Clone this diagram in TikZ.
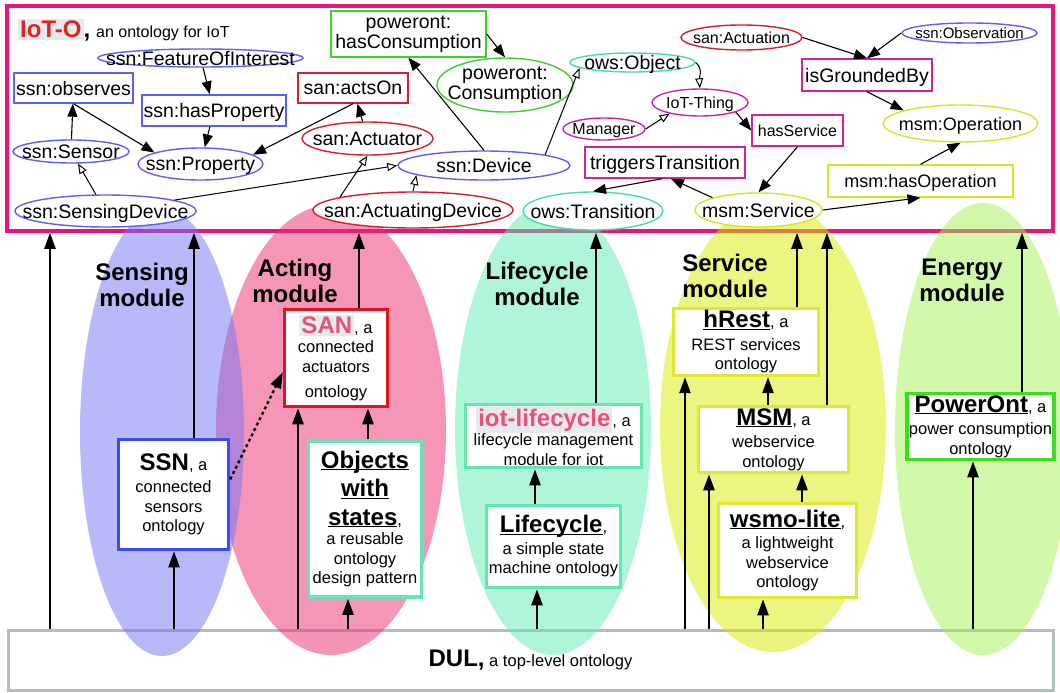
\documentclass[tikz,border=0pt]{standalone}
\usepackage{fontspec}
\setmainfont{Liberation Sans}
\usetikzlibrary{shapes,arrows.meta,positioning}

\definecolor{iotmag}{RGB}{228,22,122}
\definecolor{cblue}{RGB}{95,95,240}
\definecolor{cred}{RGB}{215,30,45}
\definecolor{cgreen}{RGB}{60,210,40}
\definecolor{cteal}{RGB}{70,220,170}
\definecolor{cmag}{RGB}{205,35,170}
\definecolor{cyel}{RGB}{215,228,40}
\definecolor{bblue}{RGB}{60,75,240}
\definecolor{bred}{RGB}{225,20,25}
\definecolor{bteal}{RGB}{100,230,175}
\definecolor{byel}{RGB}{220,232,50}
\definecolor{bgreen}{RGB}{60,220,30}
\definecolor{dulgray}{RGB}{175,190,190}
\definecolor{hlgray}{RGB}{230,234,234}
\definecolor{iotred}{RGB}{222,35,35}
\definecolor{sanpink}{RGB}{225,85,120}
\definecolor{lifepink}{RGB}{235,80,120}
\definecolor{senscol}{RGB}{115,115,245}
\definecolor{actcol}{RGB}{235,45,115}
\definecolor{lifecol}{RGB}{95,235,175}
\definecolor{servcol}{RGB}{215,235,0}
\definecolor{energycol}{RGB}{165,241,85}

\newcommand\ontofont{\fontsize{19.5}{21}\selectfont}
\newcommand\ontosmall{\fontsize{16}{18}\selectfont}
\newcommand\ontomid{\fontsize{18}{20}\selectfont}
\newcommand\modulefont{\fontsize{24}{26}\selectfont\bfseries}
\newcommand\boxtext{\fontsize{16.5}{19.5}\selectfont}
\newcommand\boxhead{\fontsize{24}{26}\selectfont\bfseries}
\newcommand\uhead[1]{\underline{\raisebox{0pt}[\height][0pt]{\boxhead #1}}}
\setlength\fboxsep{2pt}

\tikzset{
  prop/.style={rectangle, draw=#1, line width=1.4pt, fill=white, inner sep=0pt},
  cls/.style={ellipse, draw=#1, line width=1.4pt, fill=white, inner sep=0pt},
  txt/.style={font=\ontofont, align=center, inner sep=0pt, text depth=0pt},
  txttwo/.style={font=\fontsize{19.5}{20.5}\selectfont, align=center, inner sep=0pt},
  modbox/.style={rectangle, draw=#1, line width=3.5pt, fill=white, inner sep=2pt, align=center, font=\boxtext},
  modlbl/.style={font=\modulefont, align=center, inner sep=0pt},
  module/.style={fill=#1, fill opacity=.5},
  prp/.style={-{Triangle[length=13pt,width=10pt]}, line width=1.1pt},
  isa/.style={-{Triangle[open,length=10pt,width=8pt]}, line width=1pt},
  imports/.style={-{Triangle[length=16pt,width=11pt]}, line width=2.4pt},
}

\begin{document}
\begin{tikzpicture}[x=1pt,y=-1pt]
\useasboundingbox (0,0) rectangle (1060,693);

% frames
\node[draw=iotmag, line width=3.5pt, fill=white, inner sep=0pt, minimum width=1046pt, minimum height=225pt] (iot) at (530,118.5) {};
\node[draw=dulgray, line width=3pt, fill=white, inner sep=0pt, minimum width=1045pt, minimum height=60pt, font=\boxtext] (dul) at (530.5,660) {{\boxhead DUL,} a top-level ontology};

% modules
\fill[module=actcol] (331,430) ellipse [x radius=115pt, y radius=225pt];
\fill[module=senscol] (162,432) ellipse [x radius=82pt, y radius=224pt];
\fill[module=lifecol] (553,429) ellipse [x radius=98pt, y radius=226pt];
\fill[module=servcol] (773,427) ellipse [x radius=113pt, y radius=225pt];
\fill[module=energycol] (983,429) ellipse [x radius=88pt, y radius=226pt];

\node[anchor=base west, inner sep=0pt] (title) at (18,38) {\colorbox{hlgray}{\boxhead\color{iotred}IoT-O}{\boxhead,}\hspace{6pt}{\ontosmall an ontology for IoT}};

% IoT-O classes and properties
\node[prop=cblue, minimum width=119pt, minimum height=30pt, label={[txt]center:{ssn:observes}}] (observes) at (73.5,88) {};
\node[prop=cblue, minimum width=144pt, minimum height=31pt, label={[txt]center:{ssn:hasProperty}}] (hasProperty) at (214,110.5) {};
\node[prop=cred, minimum width=110pt, minimum height=30pt, label={[txt]center:{san:actsOn}}] (actsOn) at (353,88) {};
\node[prop=cgreen, minimum width=155pt, minimum height=46pt, label={[txttwo]center:{poweront:\\hasConsumption}}] (hasCons) at (408.5,34) {};
\node[prop=cmag, minimum width=160pt, minimum height=31pt, label={[txt]center:{triggersTransition}}] (trigger) at (665,162.5) {};
\node[prop=cmag, minimum width=91pt, minimum height=31pt, label={[txt, font=\ontosmall]center:{hasService}}] (hasService) at (797.5,130.5) {};
\node[prop=cmag, minimum width=130pt, minimum height=32pt, label={[txt]center:{isGroundedBy}}] (grounded) at (867,75) {};
\node[prop=cyel, minimum width=185pt, minimum height=32pt, label={[txt, font=\ontomid]center:{msm:hasOperation}}] (hasOperation) at (920.5,181) {};

\node[cls=cblue, minimum width=205pt, minimum height=18pt, label={[txt]center:{ssn:FeatureOfInterest}}] (foi) at (200.5,58) {};
\node[cls=cblue, minimum width=116pt, minimum height=23pt, label={[txt]center:{ssn:Sensor}}] (sensor) at (71,151.5) {};
\node[cls=cblue, minimum width=125pt, minimum height=32pt, label={[txt]center:{ssn:Property}}] (property) at (200.5,164) {};
\node[cls=cblue, minimum width=181pt, minimum height=32pt, label={[txt]center:{ssn:SensingDevice}}] (sensingDev) at (105.5,211) {};
\node[cls=cred, minimum width=131pt, minimum height=33pt, label={[txt]center:{san:Actuator}}] (actuator) at (367.5,138.5) {};
\node[cls=cred, minimum width=200pt, minimum height=36pt, label={[txt]center:{san:ActuatingDevice}}] (actuatingDev) at (413,210) {};
\node[cls=cblue, minimum width=172pt, minimum height=29pt, label={[txt]center:{ssn:Device}}] (device) at (484,165.5) {};
\node[cls=cgreen, minimum width=136pt, minimum height=54pt, label={[txttwo]center:{poweront:\\Consumption}}] (consumption) at (505,85) {};
\node[cls=cteal, minimum width=125pt, minimum height=19pt, label={[txt]center:{ows:Object}}] (object) at (632.5,62.5) {};
\node[cls=cmag, minimum width=96pt, minimum height=27pt, label={[txt, font=\ontosmall]center:{IoT-Thing}}] (thing) at (700,102.5) {};
\node[cls=cmag, minimum width=82pt, minimum height=22pt, label={[txt, font=\ontosmall]center:{Manager}}] (manager) at (604,129) {};
\node[cls=cteal, minimum width=140pt, minimum height=38pt, label={[txt]center:{ows:Transition}}] (transition) at (593,211) {};
\node[cls=cred, minimum width=121pt, minimum height=25pt, label={[txt, font=\ontosmall]center:{san:Actuation}}] (actuation) at (741.5,37.5) {};
\node[cls=cblue, minimum width=135pt, minimum height=20pt, label={[txt, font=\fontsize{15}{17}\selectfont]center:{ssn:Observation}}] (observation) at (969.5,33) {};
\node[cls=cyel, minimum width=155pt, minimum height=37pt, label={[txt, font=\ontomid]center:{msm:Operation}}] (operation) at (960.5,123.5) {};
\node[cls=cyel, minimum width=127pt, minimum height=34pt, label={[txt]center:{msm:Service}}] (service) at (758.5,210) {};

\draw[prp] (foi) -- (hasProperty);
\draw[prp] (hasProperty) -- (property);
\draw[prp] (observes.south) -- (property.166);
\draw[prp] (sensor) -- (observes);
\draw[isa] (sensingDev) -- (sensor);
\draw[isa] (sensingDev.9) -- (device.west);
\draw[isa] (actuatingDev.170) -- (actuator.south);
\draw[isa] (actuatingDev.north) -- (device.188);
\draw[prp] (actuator) -- (actsOn);
\draw[prp] (actsOn.south) -- (property.10);
\draw[prp] (device.north) -- (hasCons.south);
\draw[prp] (hasCons.east) -- (consumption.north);
\draw[isa] (device.10) -- (object.186);
\draw[isa] (object.east) to[out=-40,in=95] (thing.north);
\draw[isa] (manager.east) -- (thing.200);
\draw[prp] (thing.-15) -- (hasService.west);
\draw[prp] (hasService.south) -- (service.north);
\draw[prp] (service.165) -- (trigger.290);
\draw[prp] (trigger.260) -- (transition.north);
\draw[prp] (service.east) -- (hasOperation.south);
\draw[prp] (hasOperation.north) -- (operation.south);
\draw[prp] (actuation.east) -- (grounded.north);
\draw[prp] (observation.west) -- (grounded.north);
\draw[prp] (grounded.south) -- (operation.167);

% module labels
\node[modlbl] (sensLbl) at (142,285) {Sensing\\module};
\node[modlbl] (actLbl) at (295,281) {Acting\\module};
\node[modlbl] (lifeLbl) at (537,284) {Lifecycle\\module};
\node[modlbl] (servLbl) at (725,276) {Service\\module};
\node[modlbl] (energyLbl) at (962,280) {Energy\\module};

% ontologies
\node[modbox=bblue, minimum width=110pt, minimum height=110pt] (ssnBox) at (173.5,494.5) {{\boxhead SSN}, a\\[3pt]connected\\sensors\\ontology};
\node[modbox=bred, minimum width=103pt, minimum height=97pt] (sanBox) at (336,358) {\colorbox{hlgray}{\boxhead\color{sanpink}SAN}, a\\connected\\actuators\\[6pt]ontology};
\node[modbox=bteal, minimum width=113pt, minimum height=156pt] (objBox) at (365,519) {\uhead{Objects}\\[9pt]\uhead{with}\\[9pt]\uhead{states},\\a reusable\\ontology\\design pattern};
\node[modbox=bteal, minimum width=176pt, minimum height=63pt] (iotlcBox) at (553.5,436) {\colorbox{hlgray}{\boxhead\color{lifepink}iot-lifecycle}, a\\lifecycle management\\module for iot};
\node[modbox=bteal, minimum width=134pt, minimum height=82pt] (lcBox) at (553.5,546.5) {\uhead{Lifecycle},\\[2pt]a simple state\\machine ontology};
\node[modbox=byel, minimum width=145pt, minimum height=61pt] (hrestBox) at (746,342) {\uhead{hRest}, a\\[3pt]REST services\\ontology};
\node[modbox=byel, minimum width=150pt, minimum height=62pt] (msmBox) at (773.5,439.5) {\uhead{MSM}, a\\[3pt]webservice\\ontology};
\node[modbox=byel, minimum width=138pt, minimum height=94pt] (wsmoBox) at (787.5,550.5) {\uhead{wsmo-lite},\\[2pt]a lightweight\\webservice\\ontology};
\node[modbox=bgreen, minimum width=146pt, minimum height=64pt] (powerBox) at (980.5,426.5) {\uhead{PowerOnt}, a\\[3pt]power consumption\\ontology};

% imports
\draw[imports] (dul.north -| 50,0) -- (iot.south -| 50,0);
\draw[imports] (dul.north -| 174,0) -- (ssnBox.south -| 174,0);
\draw[imports] (ssnBox.north -| 194,0) -- (iot.south -| 194,0);
\draw[imports] (dul.north -| 298,0) -- (sanBox.south -| 298,0);
\draw[imports] (dul.north -| 348,0) -- (objBox.south -| 348,0);
\draw[imports] (objBox.north -| 368,0) -- (sanBox.south -| 368,0);
\draw[imports] (sanBox.north -| 359,0) -- (iot.south -| 359,0);
\draw[imports, dash pattern=on 3pt off 3pt] (ssnBox.15) -- (sanBox.195);
\draw[imports] (dul.north -| 537,0) -- (lcBox.south -| 537,0);
\draw[imports] (lcBox.north -| 535,0) -- (iotlcBox.south -| 535,0);
\draw[imports] (iotlcBox.north -| 596,0) -- (iot.south -| 596,0);
\draw[imports] (dul.north -| 685,0) -- (hrestBox.south -| 685,0);
\draw[imports] (dul.north -| 709,0) -- (msmBox.south -| 709,0);
\draw[imports] (dul.north -| 763,0) -- (wsmoBox.south -| 763,0);
\draw[imports] (wsmoBox.north -| 802,0) -- (msmBox.south -| 802,0);
\draw[imports] (msmBox.north -| 768,0) -- (hrestBox.south -| 768,0);
\draw[imports] (hrestBox.north -| 797,0) -- (iot.south -| 797,0);
\draw[imports] (msmBox.north -| 827,0) -- (iot.south -| 827,0);
\draw[imports] (dul.north -| 973,0) -- (powerBox.south -| 973,0);
\draw[imports] (powerBox.north -| 1022,0) -- (iot.south -| 1022,0);
\end{tikzpicture}
\end{document}
